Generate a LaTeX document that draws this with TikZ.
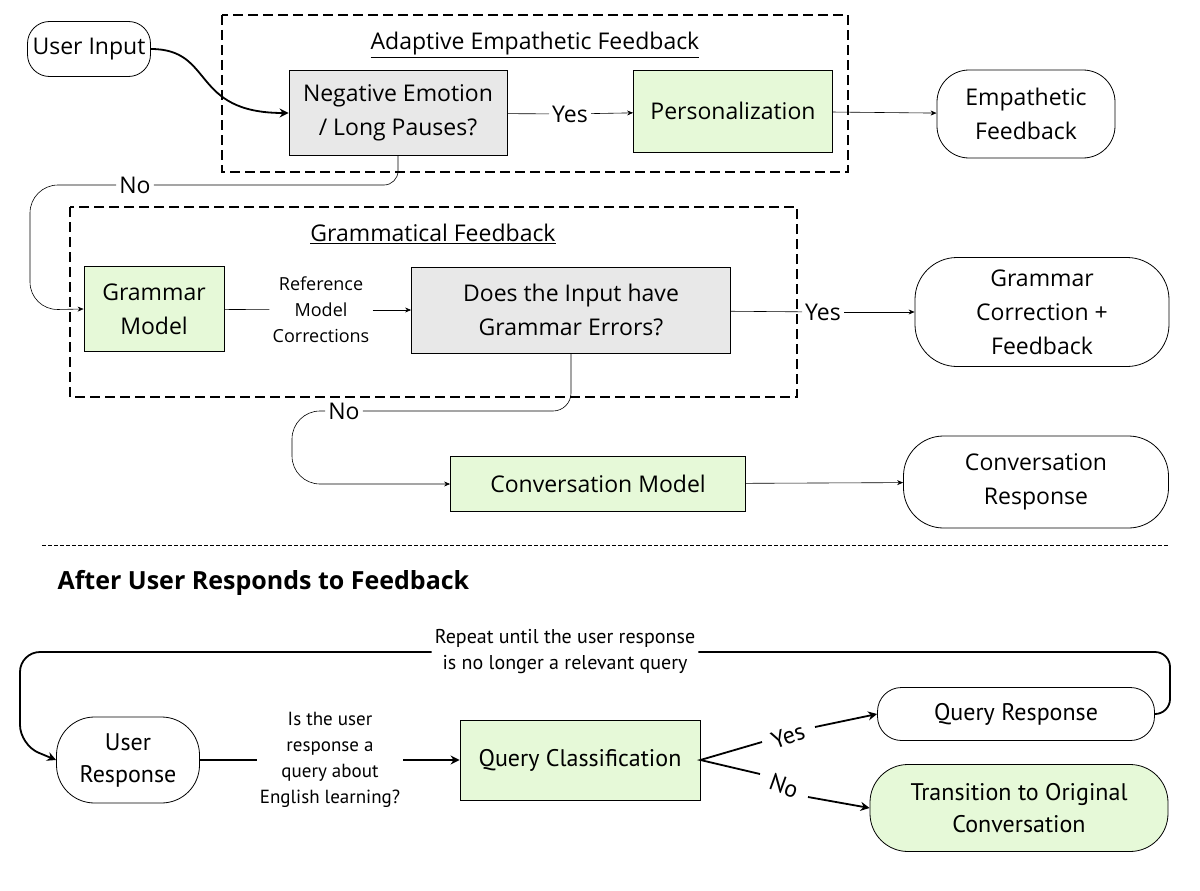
\documentclass[tikz,border=0pt]{standalone}
\usepackage{fontspec}
\setmainfont{Open Sans}
\newfontfamily\narrowf{PT Sans}
\usetikzlibrary{arrows.meta}
\definecolor{gfill}{HTML}{E6F9D8}
\definecolor{grayfill}{HTML}{E8E8E8}
\begin{document}
\begin{tikzpicture}[x=1pt,y=-1pt,
 box/.style={draw,thick,minimum width=#1,align=center,inner sep=2pt},
 term/.style={draw,thick,rounded corners=22pt,align=center,minimum width=#1},
 lab/.style={fill=white,inner sep=3pt,align=center},
 thin arr/.style={-{Stealth[length=6pt,width=5pt]},semithick},
 thick arr/.style={-{Stealth[length=9pt,width=9pt]},line width=1.8pt},
 dbox/.style={draw,line width=1.8pt,dash pattern=on 10pt off 5pt},
 every node/.style={font=\fontsize{23}{34}\selectfont}]
\useasboundingbox (0,0) rectangle (1200,891);
% top section
\draw[dbox] (222,15) rectangle (848,172);
\node (t1) at (535,45) {\underline{Adaptive Empathetic Feedback}};
\node[term=123pt,minimum height=55pt] (ui) at (89,49) {User Input};
\node[box=218pt,minimum height=85pt,fill=grayfill] (neg) at (398,113) {Negative Emotion\\/ Long Pauses?};
\node[box=199pt,minimum height=82pt,fill=gfill] (pers) at (733,111) {Personalization};
\node[term=178pt,minimum height=88pt,rounded corners=32pt] (emp) at (1026,114) {Empathetic\\Feedback};
\node[lab] (yes1) at (570,114) {Yes};
\draw[semithick] (neg) -- (yes1);
\draw[thin arr] (yes1) -- (pers);
\draw[thin arr] (pers) -- (emp);
\draw[thick arr] (ui.east) .. controls (215,49) and (190,113) .. (neg.west);

\draw[dbox] (70,207) rectangle (797,397);
\node (t2) at (433,234) {\underline{Grammatical Feedback}};
\node[box=140pt,minimum height=85pt,fill=gfill] (gm) at (154,309) {Grammar\\Model};
\node[lab,font=\fontsize{18}{26}\selectfont] (ref) at (321,310) {Reference\\Model\\Corrections};
\node[box=319pt,minimum height=86pt,fill=grayfill] (does) at (571,310) {Does the Input have\\Grammar Errors?};
\node[term=254pt,minimum height=109pt,rounded corners=42pt] (gc) at (1042,312) {Grammar\\Correction +\\Feedback};
\node[lab] (yes2) at (823,312) {Yes};
\draw[semithick] (gm) -- (ref);
\draw[thin arr] (ref) -- (does);
\draw[semithick] (does) -- (yes2);
\draw[thin arr] (yes2) -- (gc);
\node[lab] (no1) at (135,185) {No};
\draw[semithick,rounded corners=14pt] (neg.south) -- (398,185) -- (no1.east);
\draw[thin arr,rounded corners=28pt] (no1.west) -- (30,185) -- (30,310) -- (gm.west);

\node[box=295pt,minimum height=55pt,fill=gfill] (cm) at (598,484) {Conversation Model};
\node[term=265pt,minimum height=92pt,rounded corners=40pt] (cr) at (1036,482) {Conversation\\Response};
\draw[thin arr] (cm) -- (cr);
\node[lab] (no2) at (344,411) {No};
\draw[semithick,rounded corners=18pt] (does.south) -- (571,411) -- (no2.east);
\draw[thin arr,rounded corners=28pt] (no2.west) -- (292,411) -- (292,484) -- (cm.west);

% separator
\draw[thin,dash pattern=on 4pt off 2pt] (42,545) -- (1168,545);
\node[anchor=west,font=\bfseries\fontsize{25}{30}\selectfont] (after) at (54,583) {After User Responds to Feedback};

% bottom section
\begin{scope}[every node/.style={font=\narrowf\fontsize{24}{32}\selectfont}]
\node[term=143pt,minimum height=86pt,rounded corners=38pt] (ur) at (128,760) {User\\Response};
\node[lab,font=\narrowf\fontsize{19}{26}\selectfont] (q) at (330,760) {Is the user\\response a\\query about\\English learning?};
\node[box=240pt,minimum height=80pt,fill=gfill] (qc) at (580,760) {Query Classification};
\node[term=277pt,minimum height=53pt,rounded corners=24pt] (qr) at (1016,714) {Query Response};
\node[term=298pt,minimum height=87pt,fill=gfill,rounded corners=38pt] (tr) at (1019,808) {Transition to Original\\Conversation};
\node[lab,font=\narrowf\fontsize{20}{26}\selectfont] (rep) at (565,652) {Repeat until the user response\\is no longer a relevant query};
\node[rotate=20,inner sep=0pt] (yes3) at (788,736) {Yes};
\node[rotate=-20,inner sep=0pt] (no3) at (784,786) {No};
\end{scope}
\coordinate (y1) at (762,742);
\coordinate (y2) at (815,727);
\coordinate (n1) at (760,774);
\coordinate (n2) at (808,797);
\draw[line width=1.8pt] (ur.east) -- (q.west);
\draw[thick arr] (q.east) -- (qc.west);
\draw[line width=1.8pt] (y1) -- (qc.east) -- (n1);
\draw[thick arr] (y2) -- (qr.west);
\draw[thick arr] (n2) -- (tr.west);
\draw[line width=1.8pt,rounded corners=15pt] (qr.east) -- (1170,714) -- (1170,652) -- (rep.east);
\draw[thick arr,rounded corners=20pt] (rep.west) -- (20,652) -- (20,745) -- (ur.west);
\end{tikzpicture}
\end{document}
